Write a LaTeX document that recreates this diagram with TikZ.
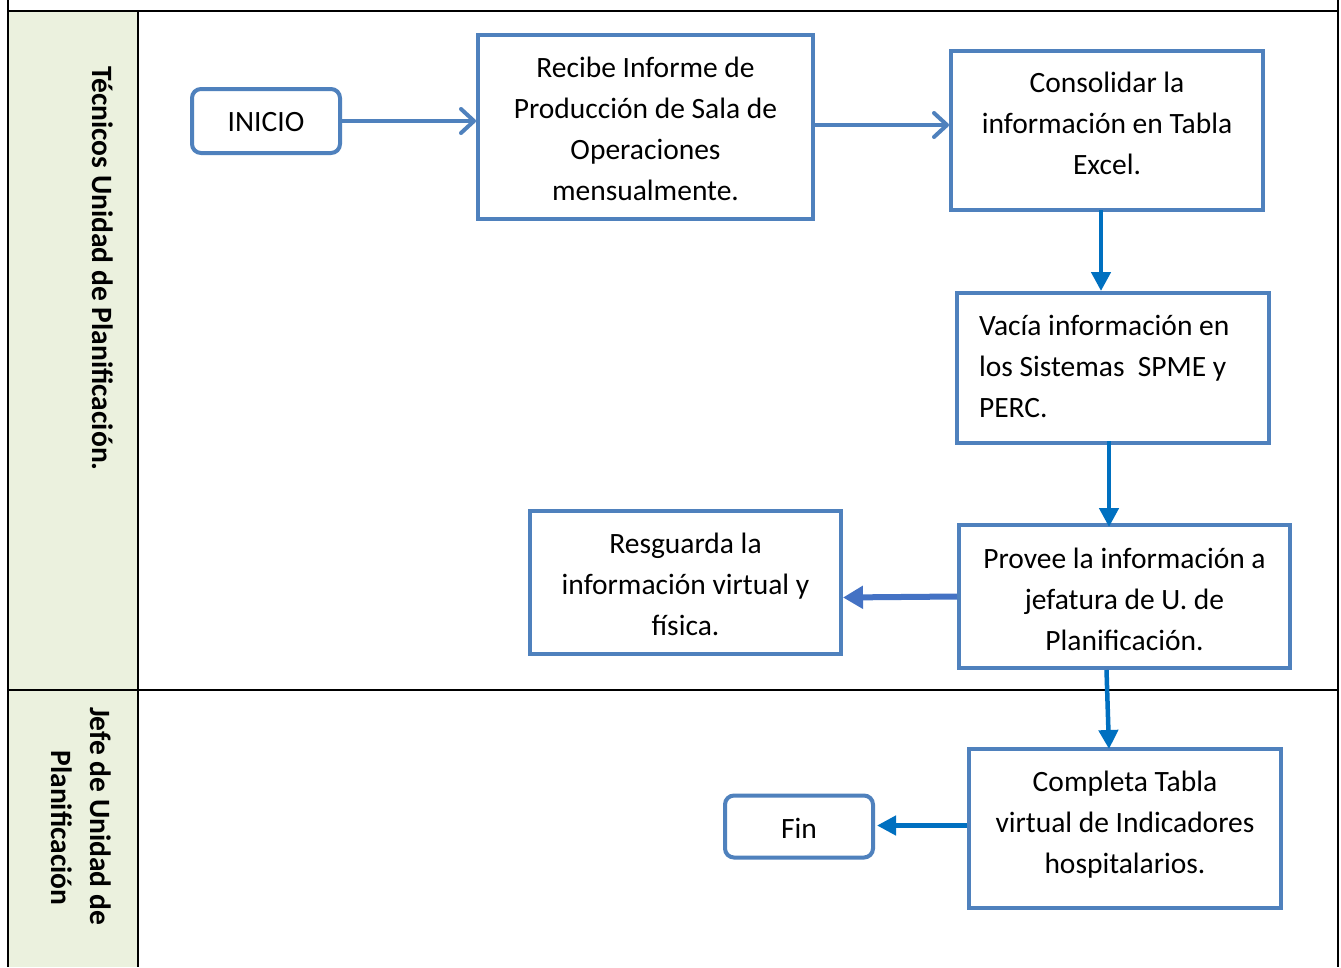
\documentclass[tikz,border=0pt]{standalone}
\usepackage{fontspec}
\setmainfont{Carlito}
\usetikzlibrary{arrows.meta,calc}
\definecolor{boxblue}{HTML}{4F81BD}
\definecolor{arrblue}{HTML}{0070C0}
\definecolor{arrblue2}{HTML}{4472C4}
\definecolor{lanegreen}{HTML}{EBF1DE}
\tikzset{
  box/.style={draw=boxblue, line width=4pt, fill=white, inner sep=0pt},
  term/.style={box, rounded corners=9pt},
  txt/.style={inner sep=0pt, align=center, font=\fontsize{29.5}{41}\selectfont},
  openarr/.style={draw=boxblue, line width=4pt, line cap=round, -{Straight Barb[length=13pt,width=24pt,line cap=round,round]}},
  fillarr/.style={draw=arrblue, line width=4.5pt, -{Triangle[length=19pt,width=19pt]}},
  lanelbl/.style={rotate=-90, font=\fontsize{29.5}{39}\selectfont\bfseries, align=center, inner sep=0pt},
  rule/.style={draw=black, line width=2pt}
}
\begin{document}
\begin{tikzpicture}[x=1pt,y=-1pt]
\useasboundingbox (0,0) rectangle (1341,967);
\fill[white] (0,0) rectangle (1341,967);
% lane column
\fill[lanegreen] (8,11) rectangle (138,967);
\draw[rule] (8,0) -- (8,967);
\draw[rule] (1338,0) -- (1338,967);
\draw[rule] (8,11) -- (1338,11);
\draw[rule] (8,690) -- (1338,690);
\draw[rule] (138,11) -- (138,967);
% lane labels
\node[lanelbl] (lane1) at (103,268.5) {Técnicos Unidad de Planificación.};
\node[lanelbl] (lane2) at (81,828) {Jefe de Unidad de\hspace*{24pt}\\Planificación};
% boxes
\node[term, minimum width=148pt, minimum height=64pt] (inicio) at (266,121) {};
\node[box, minimum width=335pt, minimum height=184pt] (recibe) at (645.5,127) {};
\node[box, minimum width=312pt, minimum height=159pt] (cons) at (1107,130.5) {};
\node[box, minimum width=312pt, minimum height=150pt] (vacia) at (1113,368) {};
\node[box, minimum width=331pt, minimum height=143pt] (provee) at (1124.5,596.5) {};
\node[box, minimum width=311pt, minimum height=143pt] (resg) at (685.5,582.5) {};
\node[box, minimum width=312pt, minimum height=159pt] (comp) at (1125,828.5) {};
\node[term, minimum width=148pt, minimum height=62pt] (fin) at (799,826.5) {};
% texts
\node[txt] (inicio-t) at ($(inicio)+(0,1)$) {INICIO};
\node[txt] (recibe-t) at ($(recibe)+(0,2)$) {Recibe Informe de\\Producción de Sala de\\Operaciones\\mensualmente.};
\node[txt] (cons-t) at ($(cons)+(0,-7)$) {Consolidar la\\información en Tabla\\Excel.};
\node[txt, text width=268pt, align=flush left] (vacia-t) at ($(vacia)+(0,-2)$) {Vacía información en\\los Sistemas~ SPME y\\PERC.};
\node[txt] (provee-t) at ($(provee)+(0,3)$) {Provee la información a\\jefatura de U. de\\Planificación.};
\node[txt] (resg-t) at ($(resg)+(0,2)$) {Resguarda la\\información virtual y\\física.};
\node[txt] (comp-t) at ($(comp)+(0,-4)$) {Completa Tabla\\virtual de Indicadores\\hospitalarios.};
\node[txt] (fin-t) at ($(fin)+(0,2)$) {Fin};
% connectors
\draw[openarr] (inicio.east) -- (inicio.east -| recibe.west);
\draw[openarr] ($(recibe.east)+(0,-2)$) coordinate (c0) -- (c0 -| cons.west);
\draw[fillarr] ($(cons.south)+(-6,-2)$) coordinate (c1) -- (c1 |- vacia.north);
\draw[fillarr] ($(vacia.south)+(-4,-4)$) coordinate (c2) -- ($(c2 |- provee.north)+(0,4)$);
\draw[fillarr, draw=arrblue2, line width=6pt, -{Triangle[length=20pt,width=22pt]}] (provee.west) -- ($(provee.west -| resg.east)+(0,1)$);
\draw[fillarr] ($(provee.south)+(-18,0)$) -- ($(comp.north)+(-16,2)$);
\draw[fillarr] ($(comp.west)+(0,-3)$) coordinate (c3) -- ($(c3 -| fin.east)+(2,0)$);
\end{tikzpicture}
\end{document}
